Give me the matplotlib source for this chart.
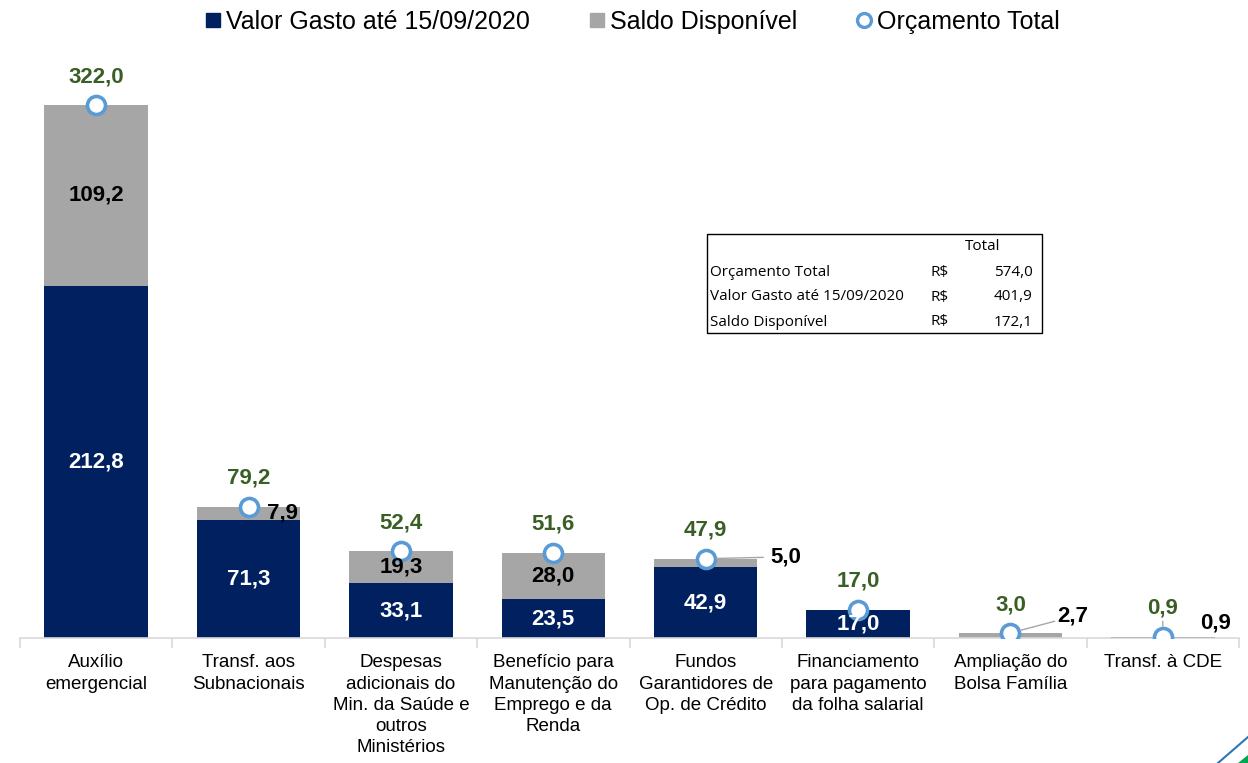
import matplotlib.pyplot as plt
import numpy as np
from matplotlib.patches import Rectangle
from matplotlib.lines import Line2D

plt.rcParams['font.family'] = ['Liberation Sans', 'DejaVu Sans']

# dados (R$ bilhões)
categorias = ["Auxílio\nemergencial", "Transf. aos\nSubnacionais",
              "Despesas\nadicionais do\nMin. da Saúde e\noutros\nMinistérios",
              "Benefício para\nManutenção do\nEmprego e da\nRenda",
              "Fundos\nGarantidores de\nOp. de Crédito",
              "Financiamento\npara pagamento\nda folha salarial",
              "Ampliação do\nBolsa Família", "Transf. à CDE"]
gasto = [212.8, 71.3, 33.1, 23.5, 42.9, 17.0, 0.3, 0.9]
saldo = [109.2, 7.9, 19.3, 28.0, 5.0, 0.0, 2.7, 0.0]
total = [322.0, 79.2, 52.4, 51.6, 47.9, 17.0, 3.0, 0.9]

tabela_rotulos = ["Orçamento Total", "Valor Gasto até 15/09/2020", "Saldo Disponível"]
tabela_valores = [574.0, 401.9, 172.1]

AZUL = '#002060'
CINZA = '#A6A6A6'
VERDE = '#3A5F25'
CIRC = '#5B9BD5'

def fmt(v):
    return f"{v:.1f}".replace('.', ',')

fig = plt.figure(figsize=(12.48, 7.63), dpi=100)
ax = fig.add_axes([20/1248, 125/763, 1219/1248, 588/763])

x = np.arange(len(categorias))
ax.bar(x, gasto, width=0.68, color=AZUL, zorder=2)
ax.bar(x, saldo, width=0.68, bottom=gasto, color=CINZA, zorder=2)
ax.plot(x, total, linestyle='none', marker='o', ms=13, mfc='white', mec=CIRC, mew=2.6, zorder=4)

ax.set_xlim(-0.5, len(categorias) - 0.5)
ax.set_ylim(0, 355.3)
ax.set_yticks([])
for s in ['top', 'right', 'left']:
    ax.spines[s].set_visible(False)
ax.spines['bottom'].set_color('#D9D9D9')
ax.spines['bottom'].set_linewidth(1.2)
ax.set_xticks(np.arange(len(categorias) + 1) - 0.5)
ax.set_xticklabels([])
ax.tick_params(axis='x', length=7, color='#D9D9D9', width=1.2)
for i, c in enumerate(categorias):
    ax.text(i, -0.028, c, transform=ax.get_xaxis_transform(), ha='center', va='top',
            fontsize=13.5, linespacing=1.32)

lbl = dict(fontsize=16, fontweight='bold', ha='center', va='center', zorder=5)
leader = dict(arrowstyle='-', color=CINZA, lw=1)

# valores gastos (dentro da barra)
for i, g in enumerate(gasto):
    if g >= 10:
        ax.text(i, g / 2, fmt(g), color='white', **lbl)

# saldo disponível
for i in [0, 2, 3]:
    ax.text(i, gasto[i] + saldo[i] / 2, fmt(saldo[i]), color='black', **lbl)
ax.annotate(fmt(saldo[1]), (1, total[1]), xytext=(24.5, -4.3), textcoords='offset points',
            color='black', **lbl)
ax.annotate(fmt(saldo[4]), (4, total[4]), xytext=(57.6, 1.4), textcoords='offset points',
            color='black', arrowprops=dict(leader, shrinkA=3, shrinkB=7.5), **lbl)
ax.annotate(fmt(saldo[6]), (6, total[6]), xytext=(45, 12), textcoords='offset points',
            color='black', arrowprops=dict(leader, shrinkA=0, shrinkB=7.5), **lbl)
ax.annotate(fmt(gasto[7]), (7, total[7]), xytext=(38, 10), textcoords='offset points',
            color='black', **lbl)

# orçamento total
for i, t in enumerate(total):
    kw = {}
    if i == 7:
        kw['arrowprops'] = dict(leader, shrinkA=0, shrinkB=7.5)
    ax.annotate(fmt(t), (i, t), xytext=(0, 20.5), textcoords='offset points',
                color=VERDE, **lbl, **kw)

# legenda
handles = [Line2D([], [], ls='none', marker='s', ms=10, color=AZUL),
           Line2D([], [], ls='none', marker='s', ms=10, color=CINZA),
           Line2D([], [], ls='none', marker='o', ms=10, mfc='white', mec=CIRC, mew=2.4)]
fig.legend(handles, ['Valor Gasto até 15/09/2020', 'Saldo Disponível', 'Orçamento Total'],
           loc='upper center', bbox_to_anchor=(0.505, 1.017), ncol=3, frameon=False,
           fontsize=18, handletextpad=0.0, columnspacing=2.2, handlelength=1.0)

# tabela resumo
W, H = 1248, 763
fig.patches.append(Rectangle((707/W, 1 - 333/H), 335/W, 99/H, transform=fig.transFigure,
                             fill=False, edgecolor='black', lw=1))
tf = dict(fontsize=11, family=['Open Sans', 'DejaVu Sans'], va='center')
fig.text(983/W, 1 - 247/H, 'Total', ha='center', **tf)
for k, (r, v) in enumerate(zip(tabela_rotulos, tabela_valores)):
    yy = 1 - (272 + k * 25) / H
    fig.text(710/W, yy, r, ha='left', **tf)
    fig.text(930/W, yy, 'R$', ha='left', **tf)
    fig.text(1033/W, yy, fmt(v), ha='right', **tf)

# detalhe no canto
fig.add_artist(Line2D([1218/W, 1248/W], [0, 26/H], color='#2E75B6', lw=1.5, transform=fig.transFigure))
fig.patches.append(plt.Polygon([[1238/W, 0], [1248/W, 0], [1248/W, 8/H]], closed=True,
                               transform=fig.transFigure, color='#00A651'))

fig.savefig('out.png', dpi=100)
